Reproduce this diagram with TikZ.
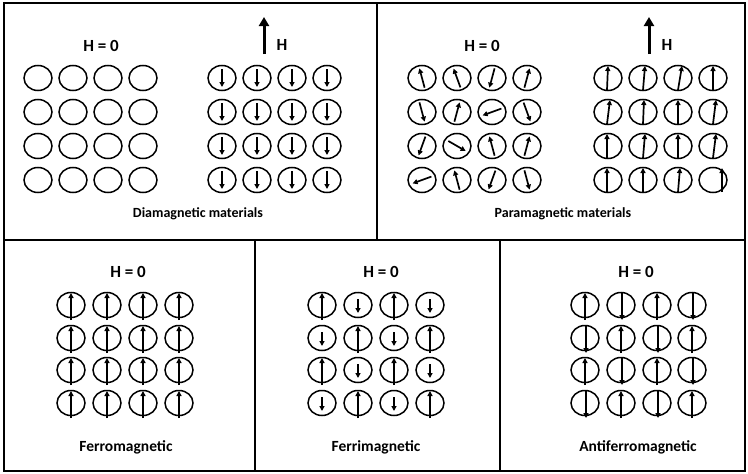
\documentclass[tikz,border=0pt]{standalone}
\usepackage{fontspec}
\setmainfont{Carlito}
\usetikzlibrary{shapes.geometric,arrows.meta}
\tikzset{
  cell/.style={draw, line width=1.5pt, ellipse, minimum width=28pt, minimum height=25pt, inner sep=0pt},
  spin/.style={line width=1.7pt, -{Triangle[length=5pt,width=5pt]}},
  field/.style={line width=3pt, -{Triangle[length=9pt,width=10pt]}},
  frame/.style={line width=1.8pt},
  divider/.style={line width=1.3pt},
  hzero/.style={font=\bfseries\fontsize{17}{19}\selectfont, inner sep=0pt},
  caption/.style={font=\bfseries\fontsize{14}{16}\selectfont, inner sep=0pt},
  lowcaption/.style={font=\bfseries\fontsize{15.5}{17}\selectfont, inner sep=0pt}
}
\begin{document}
\begin{tikzpicture}[x=1pt,y=-1pt]
\useasboundingbox (0,0) rectangle (748,474);
% frame and dividers
\draw[frame] (4,3) rectangle (745,471);
\draw[divider] (4,240) -- (745,240);
\draw[divider] (377,3) -- (377,240);
\draw[divider] (255,240) -- (255,471);
\draw[divider] (500,240) -- (500,471);

% ---------- Diamagnetic ----------
\node[hzero] (dh0) at (101,46) {H = 0};
\coordinate (dfa) at (264,54);
\coordinate (dfb) at (264,17);
\draw[field] (dfa) -- (dfb);
\node[hzero] (dhl) at (282,45) {H};
\foreach \c/\x in {1/38,2/73,3/108,4/143}
  \foreach \r/\y in {1/78,2/112,3/146,4/180}
    \node[cell] (da\r\c) at (\x,\y) {};
\foreach \c/\x in {1/222,2/257,3/292,4/327}
  \foreach \r/\y in {1/78,2/112,3/146,4/180}{
    \node[cell] (db\r\c) at (\x,\y) {};
    \draw[spin] ([shift={(0,-9)}]db\r\c.center) -- ([shift={(0,9)}]db\r\c.center);
  }
\node[caption] (dcap) at (198,214) {Diamagnetic materials};

% ---------- Paramagnetic ----------
\node[hzero] (ph0) at (482,46) {H = 0};
\coordinate (pfa) at (649,54);
\coordinate (pfb) at (649,17);
\draw[field] (pfa) -- (pfb);
\node[hzero] (phl) at (667,45) {H};
\foreach \r/\y/\la/\lb/\lc/\ld in {1/78/105/110/255/75, 2/112/285/75/200/290, 3/146/250/330/105/75, 4/180/200/105/250/285}
  \foreach \c/\x/\a in {1/422/\la,2/457/\lb,3/492/\lc,4/527/\ld}{
    \node[cell] (pa\r\c) at (\x,\y) {};
    \draw[spin] ([shift={(180-\a:10)}]pa\r\c.center) -- ([shift={(-\a:10)}]pa\r\c.center);
  }
\foreach \r/\y/\ta/\tb/\tc/\td/\od in {1/78/1/2/4/0/0, 2/112/3/1/0/3/0, 3/146/0/2/0/3/0, 4/180/0/0/2/0/9}
  \foreach \c/\x/\t/\o in {1/608/\ta/-1,2/643/\tb/0,3/678/\tc/0,4/713/\td/\od}{
    \node[cell] (pb\r\c) at (\x,\y) {};
    \draw[spin] ([shift={(\o,12)}]pb\r\c.center) -- ([shift={(\o+\t,-12)}]pb\r\c.center);
  }
\node[caption] (pcap) at (563,214) {Paramagnetic materials};

% ---------- Ferromagnetic ----------
\node[hzero] (fh0) at (128,272) {H = 0};
\foreach \c/\x in {1/71,2/107,3/143,4/179}
  \foreach \r/\y in {1/305,2/338,3/370,4/403}{
    \node[cell] (fe\r\c) at (\x,\y) {};
    \draw[spin] ([shift={(0,15)}]fe\r\c.center) -- ([shift={(0,-12)}]fe\r\c.center);
  }
\node[lowcaption] (fcap) at (126,447) {Ferromagnetic};

% ---------- Ferrimagnetic ----------
\node[hzero] (ih0) at (381,272) {H = 0};
\foreach \c/\x in {1/322,2/358,3/394,4/430}
  \foreach \r/\y in {1/305,2/338,3/370,4/403}{
    \node[cell] (fi\r\c) at (\x,\y) {};
    \pgfmathtruncatemacro{\parity}{mod(\r+\c,2)}
    \ifnum\parity=0
      \draw[spin] ([shift={(0,15)}]fi\r\c.center) -- ([shift={(0,-12)}]fi\r\c.center);
    \else
      \draw[spin] ([shift={(0,-6)}]fi\r\c.center) -- ([shift={(0,8)}]fi\r\c.center);
    \fi
  }
\node[lowcaption] (icap) at (376,447) {Ferrimagnetic};

% ---------- Antiferromagnetic ----------
\node[hzero] (ah0) at (636,272) {H = 0};
\foreach \c/\x in {1/585,2/621,3/657,4/692}
  \foreach \r/\y in {1/305,2/338,3/370,4/403}{
    \node[cell] (af\r\c) at (\x,\y) {};
    \pgfmathtruncatemacro{\parity}{mod(\r+\c,2)}
    \ifnum\parity=0
      \draw[spin] ([shift={(0,15)}]af\r\c.center) -- ([shift={(0,-12)}]af\r\c.center);
    \else
      \draw[spin] ([shift={(1,-12)}]af\r\c.center) -- ([shift={(1,15)}]af\r\c.center);
    \fi
  }
\node[lowcaption] (acap) at (638,447) {Antiferromagnetic};
\end{tikzpicture}
\end{document}
